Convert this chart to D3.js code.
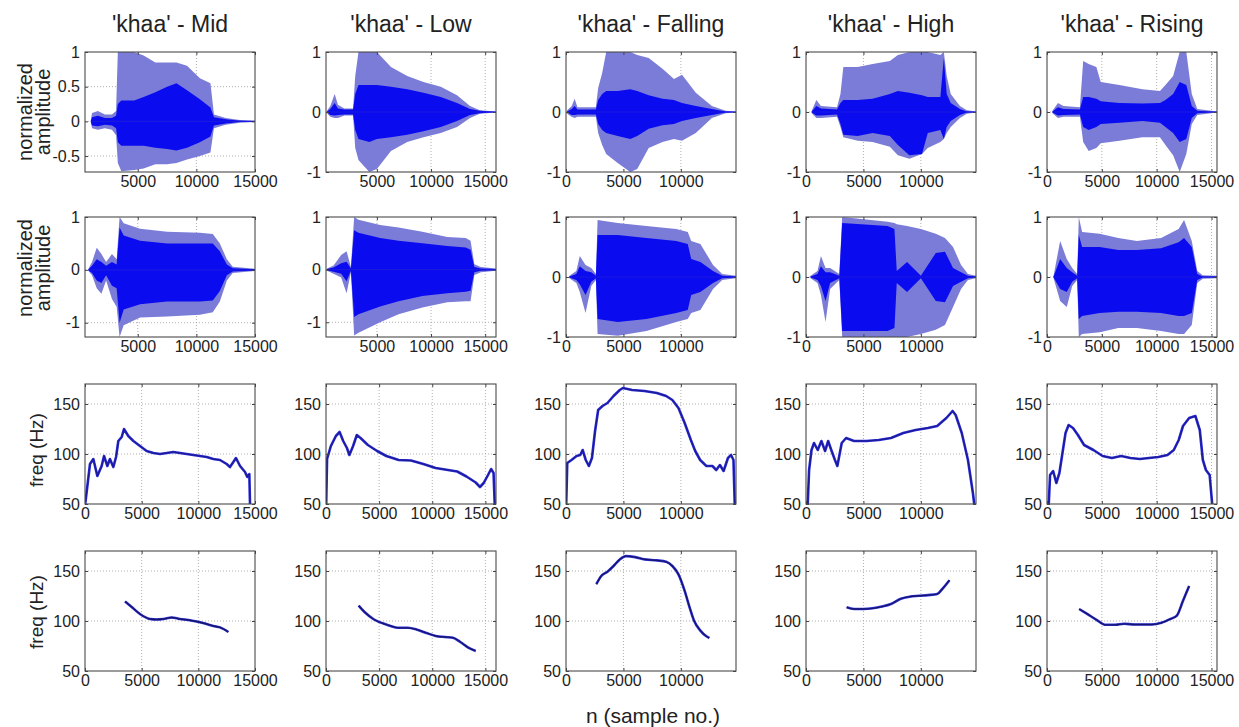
<!DOCTYPE html>
<html><head><meta charset="utf-8">
<script src="https://cdn.jsdelivr.net/npm/d3@7"></script>
<style>
body{margin:0;background:#fff}
text{font-family:"Liberation Sans",Arial,Helvetica,sans-serif;fill:#222}
</style>
</head><body>
<svg id="c" width="1239" height="727"></svg>
<script>
// ---------------- DATA ----------------
const tones = ["Mid", "Low", "Falling", "High", "Rising"];
const titles = tones.map(t => "'khaa' - " + t);

// x domains (sample numbers)
const xDomWave  = [[500,15000],[300,16000],[0,14800],[0,14800],[0,15500]];
const xDomPitch = [[0,15000],[0,16000],[0,14800],[0,14800],[0,15500]];
const xTicksWave  = [[5000,10000,15000],[5000,10000,15000],[0,5000,10000],[0,5000,10000],[0,5000,10000,15000]];
const xTicksPitch = [[0,5000,10000,15000],[0,5000,10000,15000],[0,5000,10000],[0,5000,10000],[0,5000,10000,15000]];

// y domains / ticks
const yDomRow1 = [[-0.73,1],[-1,1],[-1,1],[-1,1],[-1,1]];
const yTicksRow1 = [[-0.5,0,0.5,1],[-1,0,1],[-1,0,1],[-1,0,1],[-1,0,1]];
const yDomRow2 = [[-1.27,1],[-1.28,1],[-1,1],[-1,1],[-1,1]];
const yTicksRow2 = [-1,0,1];
const yDomPitch = [50,170];
const yTicksPitch = [50,100,150];

// waveform envelopes: [sample, outerHigh, outerLow, innerHigh, innerLow]
const waveMid1 = [[1000,0.02,-0.02,0.01,-0.01],[1100,0.12,-0.1,0.06,-0.06],[1600,0.15,-0.12,0.08,-0.07],[2200,0.1,-0.1,0.05,-0.05],[2800,0.1,-0.12,0.05,-0.06],[3150,0.15,-0.2,0.08,-0.1],[3300,1.0,-0.6,0.25,-0.3],[3600,1.0,-0.72,0.3,-0.35],[4700,1.0,-0.7,0.3,-0.35],[5500,0.95,-0.68,0.35,-0.35],[6500,0.85,-0.62,0.42,-0.38],[7500,0.85,-0.62,0.5,-0.4],[8300,0.85,-0.6,0.55,-0.42],[9200,0.8,-0.55,0.45,-0.38],[10300,0.62,-0.5,0.32,-0.3],[11200,0.55,-0.45,0.2,-0.22],[11500,0.1,-0.1,0.06,-0.06],[12500,0.05,-0.05,0.03,-0.03],[13700,0.02,-0.02,0.01,-0.01],[15000,0.01,-0.01,0,0]];
const waveLow1 = [[400,0.02,-0.02,0.01,-0.01],[700,0.1,-0.08,0.05,-0.05],[1100,0.3,-0.1,0.15,-0.06],[1400,0.12,-0.1,0.06,-0.05],[2000,0.06,-0.06,0.04,-0.04],[2800,0.06,-0.06,0.04,-0.04],[3000,0.6,-0.6,0.3,-0.3],[3300,1.0,-0.8,0.45,-0.45],[4300,1.0,-1.0,0.45,-0.5],[5000,1.0,-0.95,0.45,-0.45],[6300,0.75,-0.65,0.42,-0.42],[7800,0.6,-0.5,0.38,-0.38],[9300,0.5,-0.42,0.32,-0.32],[10900,0.42,-0.35,0.25,-0.25],[12400,0.28,-0.25,0.15,-0.15],[13600,0.1,-0.1,0.05,-0.05],[14500,0.03,-0.03,0.02,-0.02],[16000,0.01,-0.01,0,0]];
const waveFall1 = [[100,0.03,-0.03,0.01,-0.01],[500,0.1,-0.08,0.05,-0.05],[750,0.22,-0.1,0.1,-0.05],[1000,0.08,-0.08,0.04,-0.04],[2600,0.08,-0.08,0.04,-0.04],[2800,0.4,-0.35,0.2,-0.2],[3150,0.65,-0.55,0.3,-0.3],[3500,1.0,-0.7,0.35,-0.35],[4500,1.0,-0.85,0.35,-0.4],[5600,1.0,-1.0,0.38,-0.45],[6200,0.95,-0.95,0.35,-0.4],[7200,0.9,-0.6,0.28,-0.28],[8400,0.72,-0.5,0.22,-0.22],[9400,0.55,-0.45,0.2,-0.2],[10100,0.62,-0.48,0.15,-0.15],[11300,0.32,-0.35,0.1,-0.1],[12700,0.1,-0.1,0.05,-0.05],[13900,0.02,-0.02,0.01,-0.01],[14800,0.01,-0.01,0,0]];
const waveHigh1 = [[500,0.02,-0.02,0.01,-0.01],[900,0.2,-0.1,0.1,-0.06],[1300,0.1,-0.1,0.06,-0.06],[2700,0.08,-0.08,0.04,-0.04],[3000,0.3,-0.25,0.15,-0.2],[3250,0.75,-0.42,0.2,-0.38],[4500,0.75,-0.48,0.2,-0.4],[5800,0.8,-0.5,0.22,-0.35],[7300,0.85,-0.58,0.3,-0.4],[8000,0.95,-0.72,0.35,-0.55],[9000,1.0,-0.78,0.32,-0.72],[10100,1.0,-0.7,0.28,-0.7],[10600,1.0,-0.6,0.25,-0.35],[11700,0.95,-0.5,0.25,-0.3],[12000,1.0,-0.45,0.9,-0.45],[12250,0.6,-0.35,0.3,-0.25],[12600,0.3,-0.25,0.15,-0.15],[13400,0.1,-0.1,0.05,-0.05],[14000,0.03,-0.03,0.01,-0.01],[14800,0.01,-0.01,0,0]];
const waveRise1 = [[500,0.02,-0.02,0.01,-0.01],[1000,0.15,-0.1,0.08,-0.06],[1500,0.1,-0.08,0.05,-0.05],[3000,0.08,-0.08,0.04,-0.04],[3300,0.85,-0.5,0.25,-0.25],[3800,0.8,-0.65,0.25,-0.3],[4500,0.75,-0.6,0.22,-0.25],[4900,0.5,-0.52,0.18,-0.2],[6600,0.45,-0.48,0.15,-0.18],[8700,0.38,-0.42,0.14,-0.15],[10300,0.35,-0.42,0.15,-0.18],[10800,0.45,-0.55,0.2,-0.25],[11500,0.6,-0.72,0.3,-0.35],[12100,1.0,-1.0,0.5,-0.5],[12700,1.0,-0.7,0.45,-0.45],[13200,0.3,-0.2,0.1,-0.1],[13700,0.05,-0.05,0.02,-0.02],[15500,0.01,-0.01,0,0]];

const waveMid2 = [[800,0.02,-0.02,0.01,-0.01],[1100,0.15,-0.1,0.08,-0.06],[1500,0.42,-0.35,0.2,-0.2],[1900,0.3,-0.45,0.15,-0.25],[2300,0.15,-0.2,0.08,-0.1],[2800,0.3,-0.55,0.15,-0.3],[3200,0.2,-0.7,0.1,-0.35],[3450,1.0,-1.27,0.8,-1.0],[3800,0.88,-1.05,0.65,-0.75],[5200,0.78,-0.9,0.55,-0.65],[7500,0.72,-0.88,0.5,-0.6],[10300,0.7,-0.85,0.5,-0.6],[11400,0.68,-0.8,0.5,-0.58],[12000,0.5,-0.6,0.35,-0.4],[12600,0.2,-0.2,0.1,-0.1],[13100,0.06,-0.06,0.03,-0.03],[15000,0.02,-0.02,0.01,-0.01]];
const waveLow2 = [[400,0.02,-0.02,0.01,-0.01],[1000,0.08,-0.08,0.04,-0.04],[1700,0.28,-0.15,0.12,-0.08],[2200,0.35,-0.45,0.15,-0.22],[2600,0.05,-0.05,0.02,-0.02],[2900,1.0,-1.25,0.75,-0.9],[3300,0.95,-1.2,0.7,-0.85],[5300,0.85,-1.0,0.6,-0.7],[7000,0.8,-0.85,0.55,-0.6],[9200,0.72,-0.72,0.5,-0.5],[11500,0.62,-0.62,0.45,-0.45],[13200,0.6,-0.6,0.42,-0.42],[13650,0.55,-0.6,0.38,-0.4],[14000,0.1,-0.1,0.05,-0.05],[14600,0.05,-0.05,0.02,-0.02],[16000,0.02,-0.02,0.01,-0.01]];
const waveFall2 = [[300,0.02,-0.02,0.01,-0.01],[900,0.1,-0.1,0.05,-0.05],[1200,0.35,-0.25,0.18,-0.12],[1700,0.2,-0.6,0.1,-0.3],[2200,0.15,-0.15,0.08,-0.08],[2600,0.05,-0.05,0.02,-0.02],[2750,0.95,-0.95,0.7,-0.7],[4500,0.9,-0.98,0.7,-0.75],[7000,0.85,-0.9,0.65,-0.7],[9600,0.8,-0.75,0.6,-0.6],[10600,0.75,-0.7,0.55,-0.55],[10900,0.6,-0.6,0.3,-0.3],[11700,0.55,-0.55,0.25,-0.25],[12800,0.2,-0.2,0.1,-0.1],[13600,0.05,-0.05,0.02,-0.02],[14800,0.02,-0.02,0.01,-0.01]];
const waveHigh2 = [[400,0.02,-0.02,0.01,-0.01],[1000,0.1,-0.1,0.05,-0.05],[1300,0.35,-0.3,0.18,-0.15],[1700,0.15,-0.75,0.08,-0.4],[2100,0.15,-0.2,0.08,-0.1],[2900,0.05,-0.05,0.02,-0.02],[3150,1.0,-1.0,0.9,-0.9],[7100,0.92,-1.0,0.85,-0.9],[7700,0.9,-1.0,0.8,-0.85],[7900,0.88,-1.0,0.1,-0.1],[8800,0.85,-1.0,0.25,-0.25],[10000,0.8,-0.95,0.02,-0.02],[11300,0.72,-0.88,0.4,-0.4],[12100,0.65,-0.8,0.42,-0.42],[12800,0.5,-0.5,0.15,-0.15],[13500,0.2,-0.2,0.08,-0.08],[14100,0.05,-0.05,0.02,-0.02],[14800,0.02,-0.02,0.01,-0.01]];
const waveRise2 = [[600,0.02,-0.02,0.01,-0.01],[1200,0.6,-0.4,0.3,-0.2],[1800,0.3,-0.5,0.15,-0.25],[2300,0.15,-0.15,0.08,-0.08],[2750,0.05,-0.05,0.02,-0.02],[2900,1.0,-1.0,0.7,-0.7],[3200,0.75,-0.95,0.5,-0.65],[4800,0.72,-0.92,0.5,-0.6],[6500,0.65,-0.85,0.45,-0.58],[8200,0.6,-0.85,0.45,-0.58],[10400,0.65,-0.9,0.48,-0.6],[12000,0.8,-0.95,0.58,-0.65],[12500,0.95,-0.95,0.65,-0.65],[13200,0.6,-0.8,0.5,-0.6],[13700,0.1,-0.1,0.05,-0.05],[14200,0.03,-0.03,0.01,-0.01],[15500,0.02,-0.02,0.01,-0.01]];

// raw pitch tracks: [sample, Hz]
const pitchMid = [[20,50],[440,90],[735,95],[1090,78],[1470,88],[1680,98],[1970,88],[2200,95],[2500,87],[2740,97],[2940,113],[3240,117],[3440,125],[3820,118],[4270,113],[4850,108],[5440,103],[6030,101],[6620,100],[7210,101],[7790,102],[8380,101],[8970,100],[9560,99],[10150,98],[10740,97],[11320,95],[11910,94],[12500,90],[12790,87],[13090,92],[13320,96],[13680,88],[14120,82],[14320,77],[14500,80],[14560,50]];
const pitchLow = [[20,50],[100,95],[460,108],[930,118],[1280,122],[1620,113],[1970,106],[2200,99],[2550,108],[2900,119],[3250,116],[3940,109],[4810,103],[5680,98],[6840,94],[8000,93.5],[9160,90],[10320,86],[11480,84],[12350,82.5],[13220,77.5],[14090,71.5],[14490,67],[14840,71],[15250,79],[15540,85],[15770,81],[15880,50]];
const pitchFall = [[20,50],[110,91],[480,94],[920,98],[1240,99],[1450,104],[1720,94],[1990,88],[2260,96],[2530,123],[2800,144],[3180,148],[3610,151],[4140,158],[4680,164],[4950,166],[5760,164],[6830,163],[7910,161],[8720,158],[9260,154],[9790,146],[10330,131],[10870,114],[11250,103],[11680,94],[12220,88],[12750,88],[13080,84],[13400,89],[13720,83],[14100,96],[14370,99],[14580,94],[14690,50]];
const pitchHigh = [[150,50],[270,84],[480,104],[700,111],[1020,104],[1340,113],[1660,103],[1930,113],[2200,104],[2520,94],[2730,88],[3110,111],[3490,116],[4180,113],[5250,113],[6330,114],[7400,116],[8470,121],[9540,124],[10610,126],[11420,128],[12220,136],[12760,143],[13030,139],[13560,121],[14100,94],[14530,61],[14700,45]];
const pitchRise = [[160,50],[280,79],[560,83],[850,71],[1130,81],[1410,101],[1690,121],[1970,129],[2370,126],[2820,119],[3380,109],[4230,104],[5070,98],[5920,96],[6760,98],[7610,96],[8460,95],[9300,96],[10150,97],[10990,99],[11560,104],[12010,114],[12400,128],[12960,136],[13530,138],[13930,124],[14210,94],[14490,84],[14830,79],[15060,50]];

// smoothed pitch contours: [sample, Hz]
const smoothMid = [[3530,119.5],[4120,114],[4850,107],[5740,102],[6320,101.5],[6910,102],[7650,103.5],[8380,102],[9120,101],[9850,99.5],[10590,97.5],[11320,95],[11910,93.6],[12650,89]];
const smoothLow = [[3070,115.3],[3650,108.7],[4520,101.5],[5680,96.5],[6840,93.2],[7710,93.2],[8580,91.3],[9450,88],[10320,85],[11190,84],[11940,83.3],[12640,79],[13390,73.4],[14090,70]];
const smoothFall = [[2640,136.8],[3070,145],[3610,149.3],[4140,155],[4680,161.6],[5220,164.9],[6030,163.9],[6830,161.6],[7910,160.6],[8720,159.2],[9260,155],[9790,146.7],[10330,130.2],[10760,113.7],[11140,100.5],[11680,90.6],[12220,84.7],[12480,83]];
const smoothHigh = [[3540,113.7],[4180,112],[4990,112],[5790,112.7],[6600,114.4],[7400,117],[8200,122],[9010,124.3],[9810,125.2],[10620,125.9],[11420,126.9],[11850,131.8],[12490,140.8]];
const smoothRise = [[2930,112],[3660,107.1],[4510,101.2],[5360,96.2],[6200,96.2],[7050,97.2],[7890,96.5],[8740,96.5],[9580,96.5],[10430,98.2],[11270,102.1],[11840,105.4],[12400,120.3],[12960,135.1]];

const waveRow1 = [waveMid1, waveLow1, waveFall1, waveHigh1, waveRise1];
const waveRow2 = [waveMid2, waveLow2, waveFall2, waveHigh2, waveRise2];
const pitchRow = [pitchMid, pitchLow, pitchFall, pitchHigh, pitchRise];
const smoothRow = [smoothMid, smoothLow, smoothFall, smoothHigh, smoothRise];

// ---------------- LAYOUT ----------------
const svg = d3.select("#c");
const colLeft = [85, 326, 566, 806, 1047];
const W = 170, H = 120;
const rowTop = [52, 217, 384, 551];
let clipId = 0;

function panel(ci, ri, xDom, yDom, xt, yt) {
  const g = svg.append("g").attr("transform", `translate(${colLeft[ci]},${rowTop[ri]})`);
  const x = d3.scaleLinear().domain(xDom).range([0, W]);
  const y = d3.scaleLinear().domain(yDom).range([H, 0]);
  const grid = g.append("g").attr("stroke", "#9c9c9c").attr("stroke-width", 0.8).attr("stroke-dasharray", "1,2");
  grid.selectAll(".gx").data(xt.filter(v => v > xDom[0] && v < xDom[1])).join("line")
    .attr("x1", d => x(d)).attr("x2", d => x(d)).attr("y1", 0).attr("y2", H);
  grid.selectAll(".gy").data(yt.filter(v => v > yDom[0] && v < yDom[1])).join("line")
    .attr("y1", d => y(d)).attr("y2", d => y(d)).attr("x1", 0).attr("x2", W);
  const id = "clip" + (clipId++);
  g.append("clipPath").attr("id", id).append("rect").attr("width", W).attr("height", H);
  const content = g.append("g").attr("clip-path", `url(#${id})`);
  return {g, x, y, content, xt, yt};
}

function finish(p) {
  const {g, x, y, xt, yt} = p;
  const fmt = d => String(d);
  const ax = g.append("g").attr("transform", `translate(0,${H})`)
    .call(d3.axisBottom(x).tickValues(xt).tickSizeInner(-3).tickSizeOuter(0).tickPadding(4).tickFormat(fmt));
  const ay = g.append("g")
    .call(d3.axisLeft(y).tickValues(yt).tickSizeInner(-3).tickSizeOuter(0).tickPadding(5).tickFormat(fmt));
  const at = g.append("g").call(d3.axisTop(x).tickValues(xt).tickSizeInner(-3).tickSizeOuter(0).tickFormat(""));
  const ar = g.append("g").attr("transform", `translate(${W},0)`)
    .call(d3.axisRight(y).tickValues(yt).tickSizeInner(-3).tickSizeOuter(0).tickFormat(""));
  [ax, ay, at, ar].forEach(a => {
    a.select(".domain").remove();
    a.selectAll("line").attr("stroke", "#444");
    a.selectAll("text").attr("font-size", 16).attr("fill", "#222")
      .style("font-family", '"Liberation Sans", Arial, sans-serif');
  });
  g.append("rect").attr("width", W).attr("height", H).attr("fill", "none")
    .attr("stroke", "#4a4a4a").attr("stroke-width", 1.1);
}

function drawWave(p, data) {
  const {content, x, y} = p;
  const outer = d3.area().x(d => x(d[0])).y0(d => y(d[2])).y1(d => y(d[1]));
  const inner = d3.area().x(d => x(d[0])).y0(d => y(d[4])).y1(d => y(d[3]));
  content.append("path").datum(data).attr("d", outer).attr("fill", "#7a7cd8");
  content.append("path").datum(data).attr("d", inner).attr("fill", "#0b0bf0");
  content.append("line")
    .attr("x1", x(data[0][0])).attr("x2", x(data[data.length - 1][0]))
    .attr("y1", y(0)).attr("y2", y(0)).attr("stroke", "#1818e0").attr("stroke-width", 1.2);
}

function drawPitch(p, data, smooth) {
  const {content, x, y} = p;
  const line = d3.line().x(d => x(d[0])).y(d => y(d[1]))
    .curve(smooth ? d3.curveMonotoneX : d3.curveLinear);
  if (smooth) {
    content.append("path").datum(data).attr("d", line).attr("fill", "none")
      .attr("stroke", "#3535d8").attr("stroke-width", 2.6);
    content.append("path").datum(data).attr("d", line).attr("fill", "none")
      .attr("stroke", "#14146e").attr("stroke-width", 1.3);
  } else {
    content.append("path").datum(data).attr("d", line).attr("fill", "none")
      .attr("stroke", "#2828cc").attr("stroke-width", 2.6).attr("stroke-linejoin", "round");
    content.append("path").datum(data).attr("d", line).attr("fill", "none")
      .attr("stroke", "#101070").attr("stroke-width", 0.9).attr("opacity", 0.7);
  }
}

for (let c = 0; c < 5; c++) {
  const p1 = panel(c, 0, xDomWave[c], yDomRow1[c], xTicksWave[c], yTicksRow1[c]);
  drawWave(p1, waveRow1[c]); finish(p1);
  const p2 = panel(c, 1, xDomWave[c], yDomRow2[c], xTicksWave[c], yTicksRow2);
  drawWave(p2, waveRow2[c]); finish(p2);
  const p3 = panel(c, 2, xDomPitch[c], yDomPitch, xTicksPitch[c], yTicksPitch);
  drawPitch(p3, pitchRow[c], false); finish(p3);
  const p4 = panel(c, 3, xDomPitch[c], yDomPitch, xTicksPitch[c], yTicksPitch);
  drawPitch(p4, smoothRow[c], true); finish(p4);

  svg.append("text").attr("x", colLeft[c] + W / 2).attr("y", 32)
    .attr("text-anchor", "middle").attr("font-size", 23).text(titles[c]);
}

// y-axis labels
function vlabel(lines, baselines, cy, size) {
  lines.forEach((t, i) => {
    svg.append("text")
      .attr("transform", `translate(${baselines[i]},${cy}) rotate(-90)`)
      .attr("text-anchor", "middle").attr("font-size", size).text(t);
  });
}
vlabel(["normalized", "amplitude"], [32, 50], 112, 20);
vlabel(["normalized", "amplitude"], [32, 50], 268, 20);
vlabel(["freq (Hz)"], [43], 450, 19);
vlabel(["freq (Hz)"], [43], 612, 19);

svg.append("text").attr("x", 653).attr("y", 723).attr("text-anchor", "middle")
  .attr("font-size", 21).text("n (sample no.)");
</script>
</body></html>
